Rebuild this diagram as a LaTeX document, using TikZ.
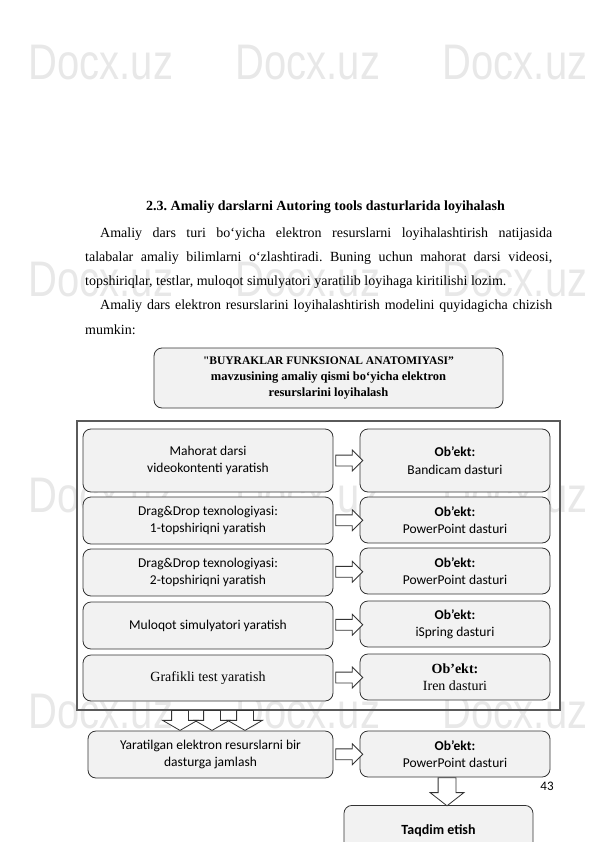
\documentclass[tikz,border=0pt]{standalone}
\usepackage{fontspec}
\setmainfont{Liberation Serif}
\newfontfamily\quotefont[Ligatures=TeXOff]{Liberation Serif}
\newfontfamily\boxfont{Carlito}
\newfontfamily\markfont[FakeStretch=0.8]{Liberation Sans}
\usetikzlibrary{shapes.arrows}

\definecolor{boxfill}{HTML}{F2F2F2}
\definecolor{boxline}{HTML}{333333}
\definecolor{frameline}{HTML}{5A5A5A}
\definecolor{markgray}{HTML}{E8E8E8}

\begin{document}
\frenchspacing
\begin{tikzpicture}[x=1pt, y=-1pt]

    \tikzset{box/.style={%
      draw=boxline,%
      fill=boxfill,%
      line width=0.8pt,%
      rounded corners=8pt,%
      align=center,%
      inner sep=0pt,%
      font=\boxfont\fontsize{13.5}{17.5}\selectfont}%
    };
    \tikzset{leftbox/.style={box, minimum width=250pt}};
    \tikzset{rightbox/.style={box, minimum width=190pt}};
    \tikzset{timesbox/.style={font=\rmfamily\fontsize{14}{17.5}\selectfont}};

    \tikzset{rarr/.style={%
      single arrow,%
      draw=boxline,%
      fill=white,%
      line width=0.8pt,%
      inner xsep=0pt,%
      inner ysep=5pt,%
      text height=0pt,%
      text depth=0pt,%
      minimum width=0pt,%
      minimum height=27pt,%
      single arrow head extend=5pt}%
    };
    \tikzset{darr/.style={rarr, rotate=-90, anchor=tail}};

    \useasboundingbox (0,0) rectangle (595,842);
    \clip (0,0) rectangle (595,842);

    %%%%%%%%%%%%%
    % watermark %
    %%%%%%%%%%%%%
    \foreach \y in {80,296,512,728}
      \foreach \x in {101,308,515}
        \node[anchor=base, text=markgray, font=\markfont\fontsize{50}{50}\selectfont] at (\x,\y) {Docx.uz};

    %%%%%%%%
    % text %
    %%%%%%%%
    \node[anchor=base, font=\bfseries\fontsize{14}{16}\selectfont] (title) at (325.5,211)
      {2.3. Amaliy darslarni Autoring tools dasturlarida loyihalash};

    \node[anchor=north west, inner sep=0pt, text width=467pt, align=justify,
          font=\fontsize{14}{24.2}\selectfont] (body) at (85,227.4) {%
      \hspace*{15pt}Amaliy dars turi bo‘yicha elektron resurslarni loyihalashtirish natijasida\linebreak
      talabalar amaliy bilimlarni o‘zlashtiradi. Buning uchun mahorat darsi videosi,\linebreak
      topshiriqlar, testlar, muloqot simulyatori yaratilib loyihaga kiritilishi lozim.\par
      \hspace*{15pt}Amaliy dars elektron resurslarini loyihalashtirish modelini quyidagicha chizish\linebreak
      mumkin:};

    %%%%%%%%%%%%%
    % top block %
    %%%%%%%%%%%%%
    \node[box, minimum width=349pt, minimum height=60pt,
          font=\rmfamily\bfseries\fontsize{12.5}{16}\selectfont] (topic) at (328.5,378) {
      {\fontsize{11.5}{16}\selectfont {\quotefont\bfseries "}BUYRAKLAR FUNKSIONAL ANATOMIYASI”}\\
      mavzusining amaliy qismi bo‘yicha elektron\\
      resurslarini loyihalash};

    \node[draw=frameline, line width=1.2pt, minimum width=483pt, minimum height=289pt,
          inner sep=0pt] (frm) at (318.5,565.5) {};

    %%%%%%%%%%%%%%%%%%%%%
    % steps and objects %
    %%%%%%%%%%%%%%%%%%%%%
    \node[leftbox, minimum height=63pt] (mah) at (208,460.5) {Mahorat darsi\\videokontenti yaratish};
    \node[leftbox, minimum height=47pt] (dd1) at (208,520.5) {Drag\&Drop texnologiyasi:\\1-topshiriqni yaratish};
    \node[leftbox, minimum height=47pt] (dd2) at (208,572.5) {Drag\&Drop texnologiyasi:\\2-topshiriqni yaratish};
    \node[leftbox, minimum height=47pt] (mul) at (208,625.5) {Muloqot simulyatori yaratish};
    \node[leftbox, timesbox, minimum height=46pt] (graf) at (208,678) {Grafikli test yaratish};

    \node[rightbox, minimum height=63pt] (ob1) at (455,460.5) {\textbf{Ob’ekt:}\\Bandicam dasturi};
    \node[rightbox, minimum height=46pt] (ob2) at (455,520) {\textbf{Ob’ekt:}\\PowerPoint dasturi};
    \node[rightbox, minimum height=46pt] (ob3) at (455,571) {\textbf{Ob’ekt:}\\PowerPoint dasturi};
    \node[rightbox, minimum height=46pt] (ob4) at (455,624) {\textbf{Ob’ekt:}\\iSpring dasturi};
    \node[rightbox, timesbox, minimum height=46pt] (ob5) at (455,677) {\textbf{Ob’ekt:}\\Iren dasturi};

    \path (mah.east) -- (ob1.west) node[midway, rarr] {};
    \path (dd1.east) -- (ob2.west) node[midway, rarr] {};
    \path (dd2.east) -- (ob3.west) node[midway, rarr] {};
    \path (mul.east) -- (ob4.west) node[midway, rarr] {};
    \path (graf.east) -- (ob5.west) node[midway, rarr] {};

    %%%%%%%%%%%
    % results %
    %%%%%%%%%%%
    \node[box, minimum width=245pt, minimum height=47pt] (jam) at (210.5,754.5)
      {Yaratilgan elektron resurslarni bir\\dasturga jamlash};
    \node[rightbox, minimum height=46pt] (obpp) at (455,754) {\textbf{Ob’ekt:}\\PowerPoint dasturi};
    \node[box, minimum width=189pt, minimum height=50pt, anchor=north,
          font=\boxfont\bfseries\fontsize{14}{17}\selectfont] (taq) at (438.5,805)
      {Taqdim etish};

    \foreach \x/\n in {180/d1, 212/d2, 245/d3}
      \node[darr, inner ysep=8pt, single arrow head extend=9pt, single arrow tip angle=120,
            minimum height=20pt] (\n) at (\x,710) {};

    \path (jam.east) -- (obpp.west) node[midway, rarr] {};
    \node[darr, inner ysep=8.5pt, single arrow head extend=8pt, single arrow tip angle=104,
          minimum height=28pt] (dt) at (obpp.south -| 447,0) {};

    \node[anchor=base, font=\boxfont\fontsize{13}{13}\selectfont] (page) at (547,790) {43};

\end{tikzpicture}
\end{document}
